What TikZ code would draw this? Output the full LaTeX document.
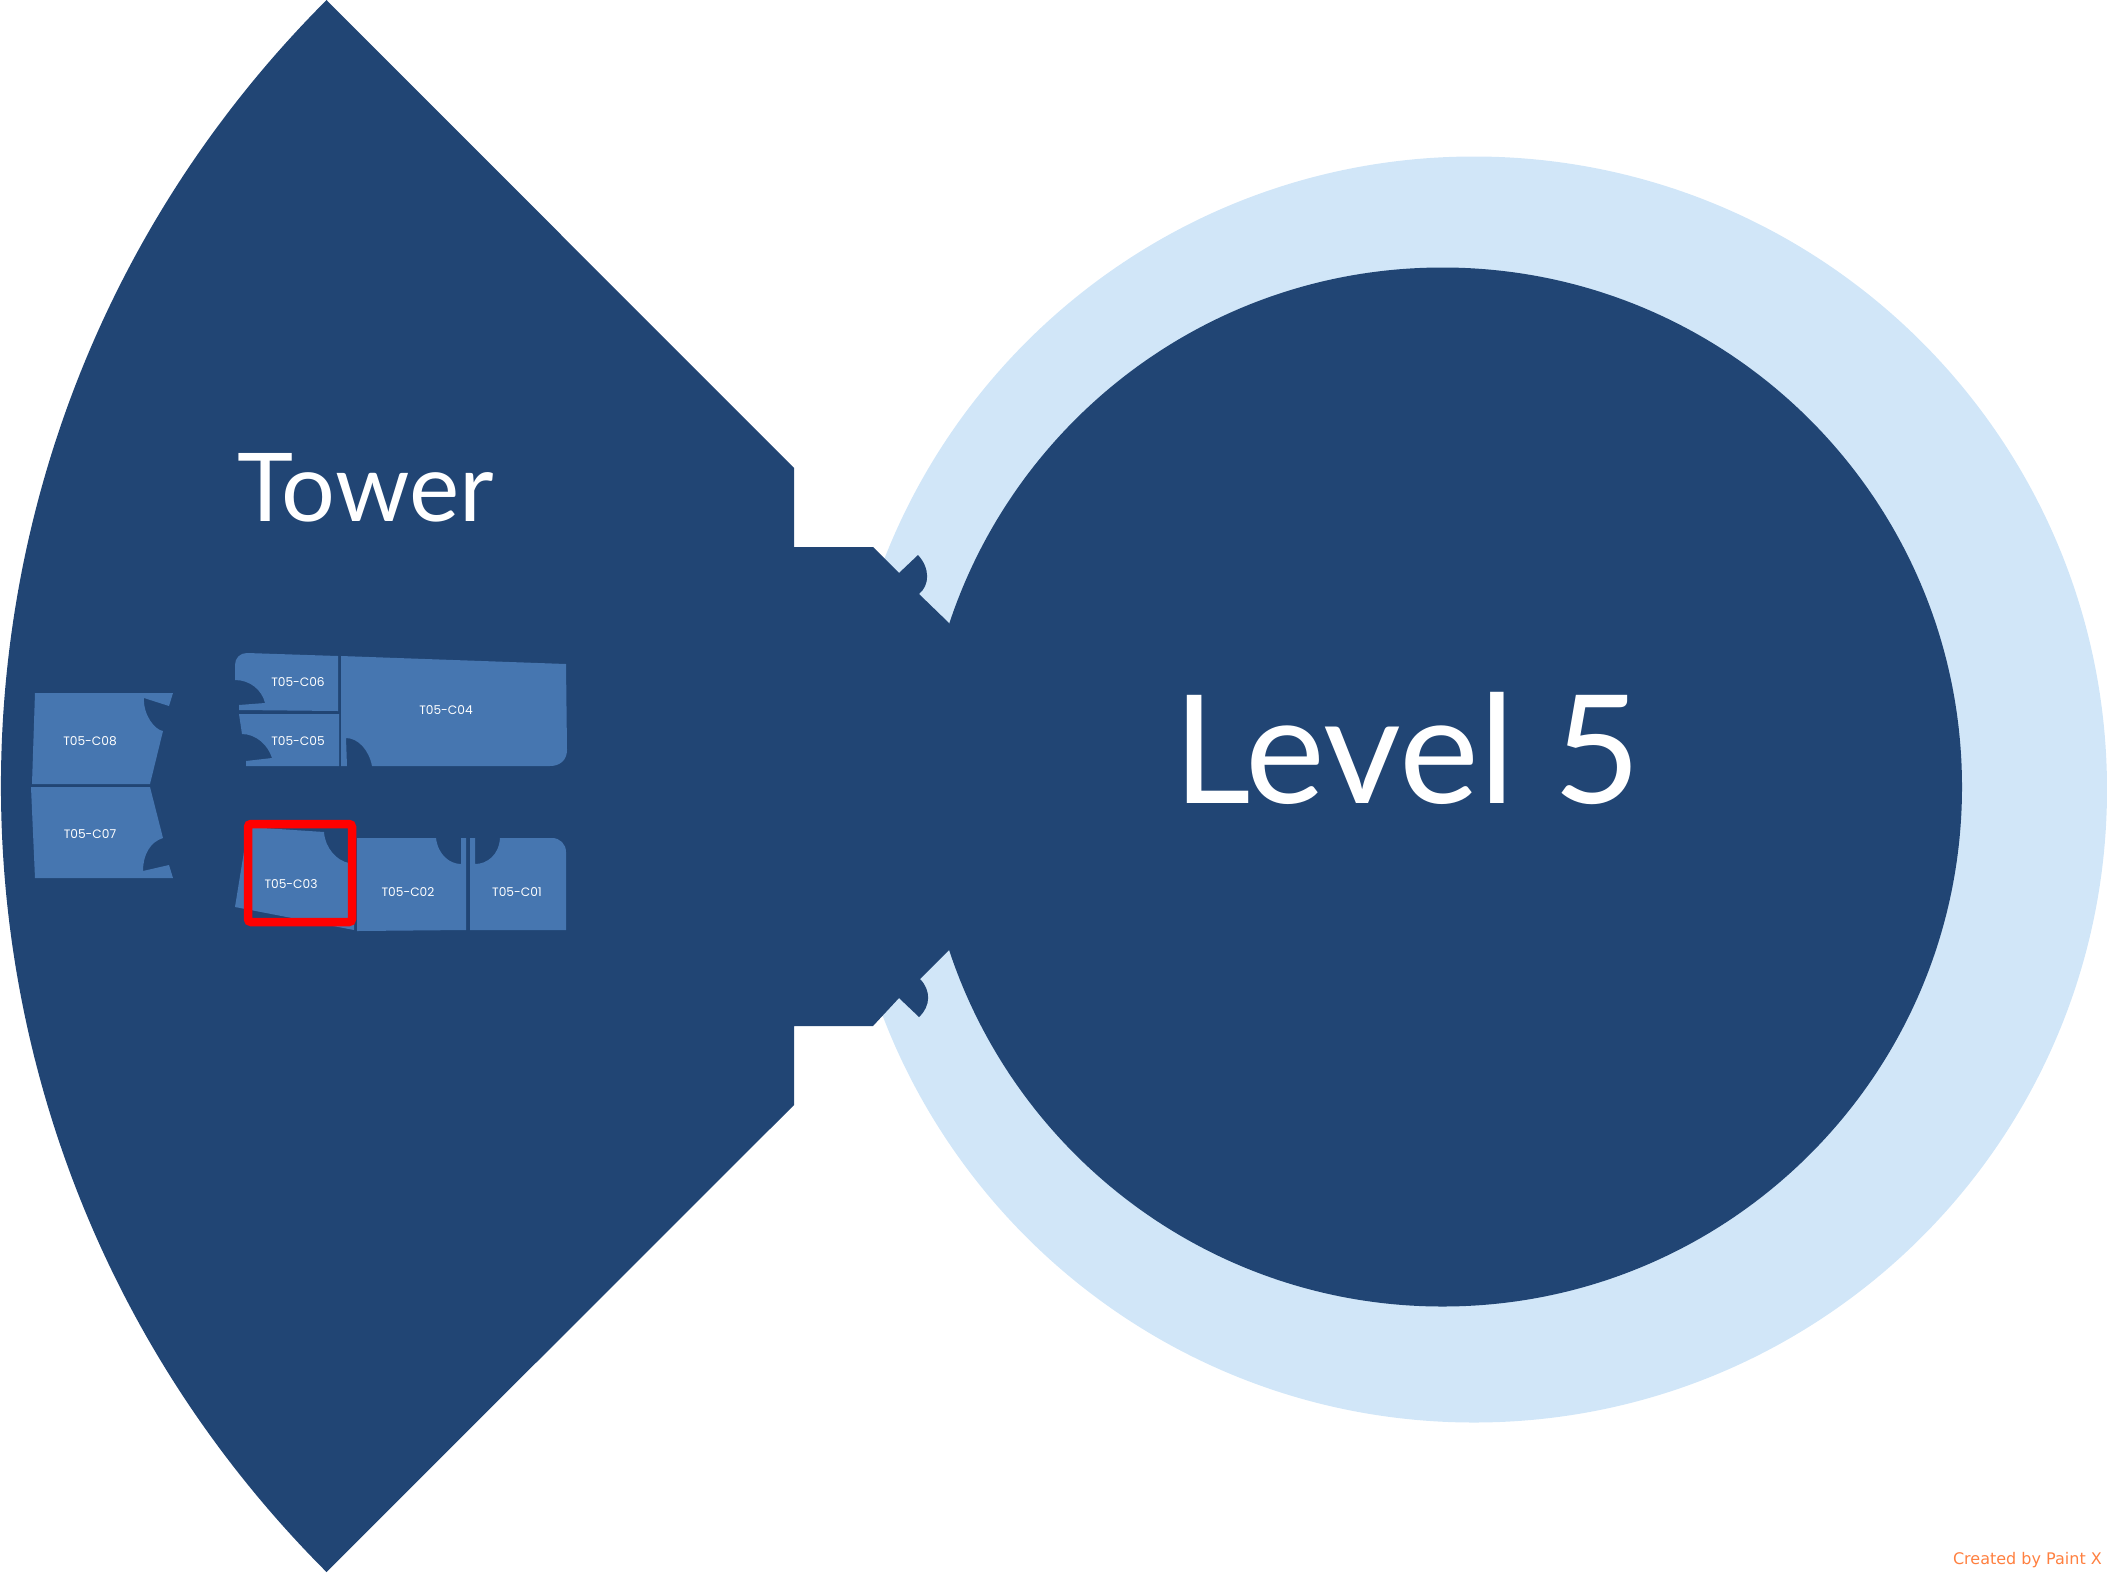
\documentclass[tikz,border=0pt]{standalone}
\usepackage{fontspec}
\setmainfont{Lato}
\newfontfamily\unitfont{Poppins}
\newfontfamily\stampfont{DejaVu Sans}
\definecolor{towerblue}{RGB}{33,69,116}
\definecolor{unitblue}{RGB}{70,118,176}
\definecolor{ringblue}{RGB}{209,230,248}
\definecolor{stamporange}{RGB}{255,128,64}
\tikzset{
  unit/.style={fill=unitblue},
  unitlabel/.style={text=white,font=\unitfont\fontsize{12.2}{14}\selectfont,inner sep=0pt},
  biglabel/.style={text=white,anchor=base,inner sep=0pt},
}

\begin{document}
\begin{tikzpicture}[x=1pt,y=-1pt]
\useasboundingbox (0,0) rectangle (2107,1572);
\fill[ringblue] (1474,789.5) circle [radius=633];
\fill[towerblue] (1442.5,787) circle [radius=519.5];
\fill[towerblue] (326.5,0) -- (794,468) -- (794,547) -- (873,547) -- (899,573) -- (918,555)
  .. controls (930,568) and (930,585) .. (919,594) -- (949,623) -- (949,950) -- (920,979)
  .. controls (931,990) and (931,1006) .. (919,1017) -- (899,998) -- (873,1026) -- (794,1026)
  -- (794,1105) -- (326.5,1572) arc [start angle=135,end angle=225,radius=1111.5] -- cycle;
\fill[unit] (235,665) .. controls (235,658) and (240,653) .. (247,653) -- (338,656) -- (338,711)
  -- (239,710) -- (239,705) -- (265,703) .. controls (262,690) and (250,680) .. (235,680) -- cycle;
\fill[unit] (239,714) -- (339,714) -- (339,766) -- (246,766) -- (246,761) -- (272,758)
  .. controls (268,745) and (256,734) .. (242,734) -- cycle;
\fill[unit] (341,656) -- (566,664) -- (567,750) .. controls (567,760) and (560,766) .. (550,766)
  -- (372,766) .. controls (369,750) and (358,738) .. (346,738) -- (347,766) -- (341,766) -- cycle;
\fill[unit] (35,693) -- (173,693) -- (169,706) -- (144,698) .. controls (143,715) and (155,730) .. (163,731)
  -- (150,784) -- (32,784) -- cycle;
\fill[unit] (31,787) -- (150,787) -- (163,838) .. controls (150,842) and (143,855) .. (143,871)
  -- (169,865) -- (173,878) -- (35,878) -- cycle;
\fill[unit] (248,827) -- (324,832) .. controls (325,848) and (337,861) .. (349,863) -- (354,863)
  -- (354,930) -- (235,907) -- cycle;
\fill[unit] (357,838) -- (436,838) .. controls (438,855) and (450,864) .. (461,864) -- (461,838)
  -- (466,838) -- (466,930) -- (357,931) -- cycle;
\fill[unit] (470,838) -- (475,838) -- (475,864) .. controls (487,864) and (499,855) .. (500,838)
  -- (552,838) .. controls (560,838) and (566,844) .. (566,852) -- (566,930) -- (470,930) -- cycle;
\draw[red,line width=8.5pt,rounded corners=3pt] (248,824) rectangle (352,922);
\node[unitlabel] (c01) at (517,892) {T05-C01};
\node[unitlabel] (c02) at (408,892) {T05-C02};
\node[unitlabel] (c03) at (291,884) {T05-C03};
\node[unitlabel] (c04) at (446,710) {T05-C04};
\node[unitlabel] (c05) at (298,741) {T05-C05};
\node[unitlabel] (c06) at (298,682) {T05-C06};
\node[unitlabel] (c07) at (90,834) {T05-C07};
\node[unitlabel] (c08) at (90,741) {T05-C08};
\node[biglabel,font=\fontsize{95}{110}\selectfont] (tower) at (365.5,521) {Tower};
\node[biglabel,font=\fontsize{151}{170}\selectfont] (level) at (1407,803) {Level 5};
\node[anchor=base east,inner sep=0pt,text=stamporange,font=\stampfont\fontsize{16}{18}\selectfont] (stamp) at (2102,1564) {Created by Paint X};
\end{tikzpicture}
\end{document}
